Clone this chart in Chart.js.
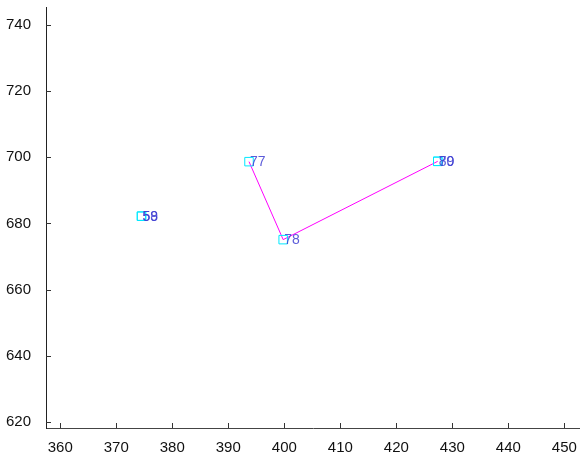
<!DOCTYPE html>
<html>
<head>
<meta charset="utf-8">
<script src="https://cdn.jsdelivr.net/npm/chart.js@4/dist/chart.umd.min.js"></script>
<style>
html,body{margin:0;padding:0;background:#fff;}
#wrap{width:580px;height:457px;position:relative;}
</style>
</head>
<body>
<div id="wrap"><canvas id="c" width="580" height="457"></canvas></div>
<script>
// Data
const pathLabels = ['77', '78', '79', '80'];
const pathX = [393.7, 399.8, 427.4, 427.4];
const pathY = [698.7, 675.1, 698.8, 698.8];
const loneLabels = ['58', '59'];
const loneX = [374.5, 374.5];
const loneY = [682.2, 682.2];
const xTicks = [360, 370, 380, 390, 400, 410, 420, 430, 440, 450];
const yTicks = [620, 640, 660, 680, 700, 720, 740];
const xRange = [357.45, 452.8];
const yRange = [618.1, 745.5];

const toPts = (xs, ys) => xs.map((x, i) => ({x: x, y: ys[i]}));

const inwardTicks = {
  id: 'inwardTicks',
  afterDatasetsDraw(chart) {
    const ctx = chart.ctx;
    const xs = chart.scales.x, ys = chart.scales.y;
    ctx.save();
    ctx.strokeStyle = '#333';
    ctx.lineWidth = 1;
    ctx.beginPath();
    xTicks.forEach(v => {
      const px = Math.round(xs.getPixelForValue(v)) + 0.5;
      ctx.moveTo(px, ys.bottom);
      ctx.lineTo(px, ys.bottom - 5);
    });
    yTicks.forEach(v => {
      const py = Math.round(ys.getPixelForValue(v)) + 0.5;
      ctx.moveTo(xs.left, py);
      ctx.lineTo(xs.left + 5, py);
    });
    ctx.stroke();
    ctx.restore();
  }
};

const pointLabels = {
  id: 'pointLabels',
  afterDatasetsDraw(chart) {
    const ctx = chart.ctx;
    const xs = chart.scales.x, ys = chart.scales.y;
    ctx.save();
    ctx.font = '14px "Liberation Sans", Arial, sans-serif';
    ctx.fillStyle = 'rgba(64,64,210,0.85)';
    ctx.textAlign = 'left';
    ctx.textBaseline = 'middle';
    const draw = (labs, xv, yv) => labs.forEach((t, i) => {
      ctx.fillText(t, xs.getPixelForValue(xv[i]) + 1, ys.getPixelForValue(yv[i]) + 0.5);
    });
    draw(loneLabels, loneX, loneY);
    draw(pathLabels, pathX, pathY);
    ctx.restore();
  }
};

new Chart(document.getElementById('c'), {
  type: 'scatter',
  data: {
    datasets: [
      {
        data: toPts(pathX, pathY),
        showLine: true,
        borderColor: '#ff00ff',
        borderWidth: 1,
        pointStyle: 'rect',
        pointRadius: 6,
        pointBorderColor: '#00e8ff',
        pointBackgroundColor: 'rgba(0,0,0,0)',
        pointBorderWidth: 1
      },
      {
        data: toPts(loneX, loneY),
        showLine: false,
        pointStyle: 'rect',
        pointRadius: 6,
        pointBorderColor: '#00e8ff',
        pointBackgroundColor: 'rgba(0,0,0,0)',
        pointBorderWidth: 1
      }
    ]
  },
  options: {
    responsive: false,
    animation: false,
    layout: {autoPadding: false, padding: {top: 7, right: 0, left: 0, bottom: 0}},
    plugins: {legend: {display: false}, tooltip: {enabled: false}},
    scales: {
      x: {
        type: 'linear',
        min: xRange[0], max: xRange[1],
        afterBuildTicks: s => { s.ticks = xTicks.map(v => ({value: v})); },
        afterFit: s => { s.height = 29; s.paddingLeft = 0; s.paddingRight = 0; },
        grid: {display: false},
        border: {display: true, color: '#444', width: 1},
        ticks: {color: '#111', font: {family: '"Liberation Sans", Arial, sans-serif', size: 15}, padding: 3, maxRotation: 0, autoSkip: false}
      },
      y: {
        type: 'linear',
        min: yRange[0], max: yRange[1],
        afterBuildTicks: s => { s.ticks = yTicks.map(v => ({value: v})); },
        afterFit: s => { s.width = 46; s.paddingTop = 0; s.paddingBottom = 0; },
        grid: {display: false},
        border: {display: true, color: '#222', width: 1},
        ticks: {color: '#111', font: {family: '"Liberation Sans", Arial, sans-serif', size: 15}, padding: 7, autoSkip: false}
      }
    }
  },
  plugins: [inwardTicks, pointLabels]
});
</script>
</body>
</html>
